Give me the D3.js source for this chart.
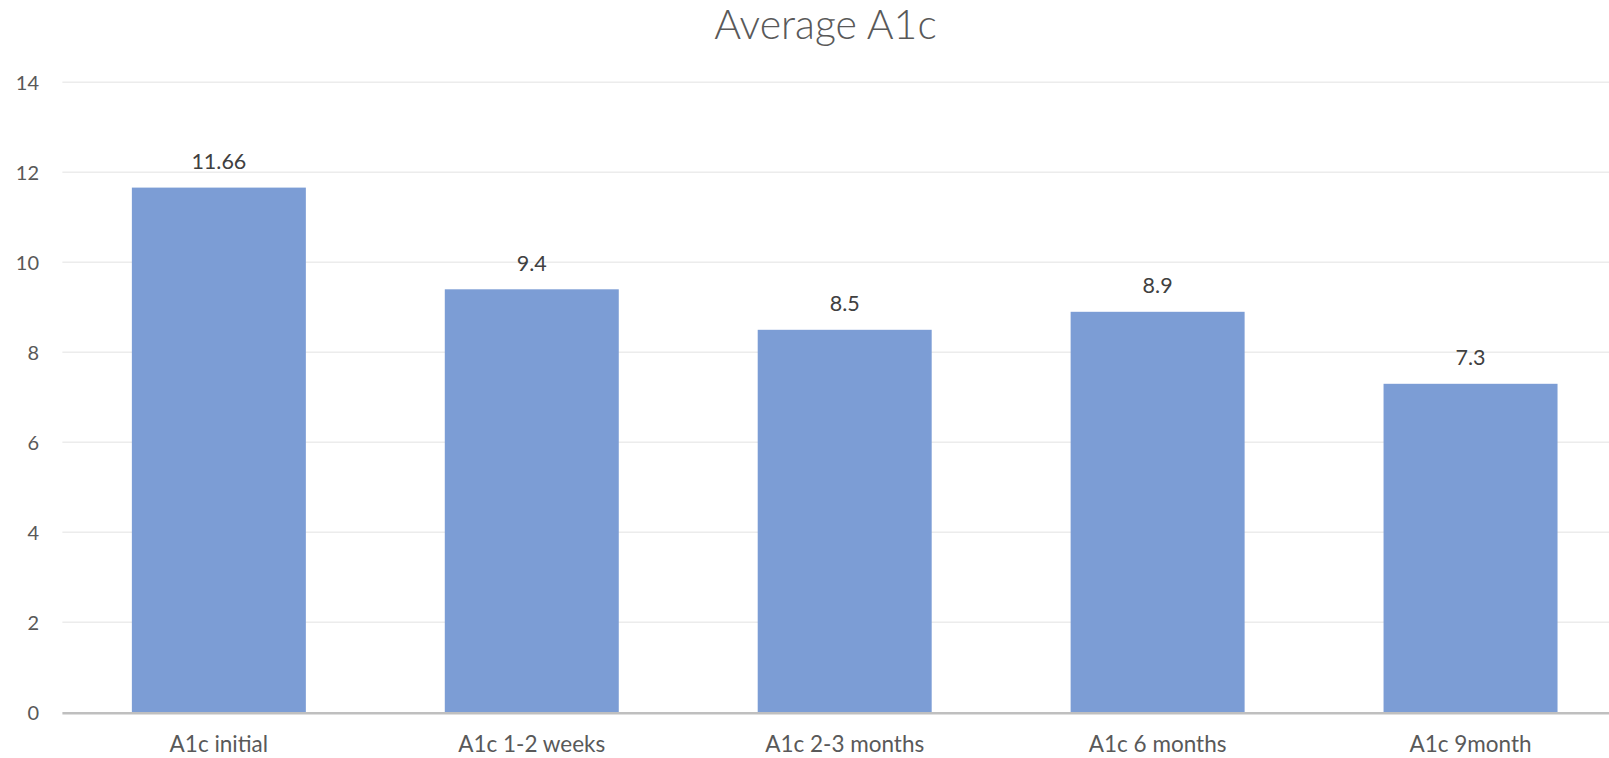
<!DOCTYPE html>
<html>
<head>
<meta charset="utf-8">
<script src="https://cdn.jsdelivr.net/npm/d3@7"></script>
<style>
  html, body { margin: 0; padding: 0; background: #ffffff; overflow: hidden; }
  svg { display: block; }
</style>
</head>
<body>
<svg id="chart" width="1609" height="758"></svg>
<script>
// Average A1c by measurement point
const categories = ["A1c initial", "A1c 1-2 weeks", "A1c 2-3 months", "A1c 6 months", "A1c 9month"];
const values = [11.66, 9.4, 8.5, 8.9, 7.3];
const valueLabels = ["11.66", "9.4", "8.5", "8.9", "7.3"];
const yTicks = [0, 2, 4, 6, 8, 10, 12, 14];
const title = "Average A1c";

const svg = d3.select("#chart");
const W = 1609, H = 758;

const plot = { left: 62.4, right: 1627, top: 82.3, bottom: 712.3 };

const x = d3.scaleBand()
  .domain(categories)
  .range([plot.left, plot.right])
  .paddingInner(0.444)
  .paddingOuter(0.222);

const y = d3.scaleLinear()
  .domain([0, 14])
  .range([plot.bottom, plot.top]);

const font = "Lato, 'Open Sans', sans-serif";

// Title
svg.append("text")
  .attr("x", 825.5)
  .attr("y", 39)
  .attr("text-anchor", "middle")
  .attr("font-family", font)
  .attr("font-weight", 300)
  .attr("font-size", 41)
  .attr("fill", "#595959")
  .text(title);

// Horizontal gridlines
svg.append("g")
  .selectAll("line")
  .data(yTicks.filter(d => d !== 0))
  .join("line")
  .attr("x1", plot.left)
  .attr("x2", W)
  .attr("y1", d => y(d))
  .attr("y2", d => y(d))
  .attr("stroke", "#ececec")
  .attr("stroke-width", 1.5);

// Y axis labels
const yAxis = d3.axisLeft(y).tickValues(yTicks).tickSize(0).tickPadding(0);
const gy = svg.append("g")
  .attr("transform", `translate(39,0)`)
  .call(yAxis);
gy.select(".domain").remove();
gy.selectAll("text")
  .attr("font-family", font)
  .attr("font-size", 20)
  .attr("fill", "#595959")
  .attr("dy", "0.35em");

// Bars
svg.append("g")
  .selectAll("rect")
  .data(values)
  .join("rect")
  .attr("x", (d, i) => x(categories[i]))
  .attr("width", x.bandwidth())
  .attr("y", d => y(d))
  .attr("height", d => y(0) - y(d))
  .attr("fill", "#7c9dd5");

// Value labels
svg.append("g")
  .selectAll("text")
  .data(values)
  .join("text")
  .attr("x", (d, i) => x(categories[i]) + x.bandwidth() / 2)
  .attr("y", d => y(d) - 18.5)
  .attr("text-anchor", "middle")
  .attr("font-family", font)
  .attr("font-size", 21.5)
  .attr("fill", "#404040")
  .text((d, i) => valueLabels[i]);

// Baseline axis
svg.append("line")
  .attr("x1", plot.left)
  .attr("x2", W)
  .attr("y1", y(0) + 1)
  .attr("y2", y(0) + 1)
  .attr("stroke", "#bfbfbf")
  .attr("stroke-width", 2.5);

// Category labels
const xAxis = d3.axisBottom(x).tickSize(0).tickPadding(0);
const gx = svg.append("g")
  .attr("transform", `translate(0,${plot.bottom})`)
  .call(xAxis);
gx.select(".domain").remove();
gx.selectAll("text")
  .attr("font-family", font)
  .attr("font-size", 22.5)
  .attr("fill", "#595959")
  .attr("dy", 0)
  .attr("y", 39.5);
</script>
</body>
</html>
